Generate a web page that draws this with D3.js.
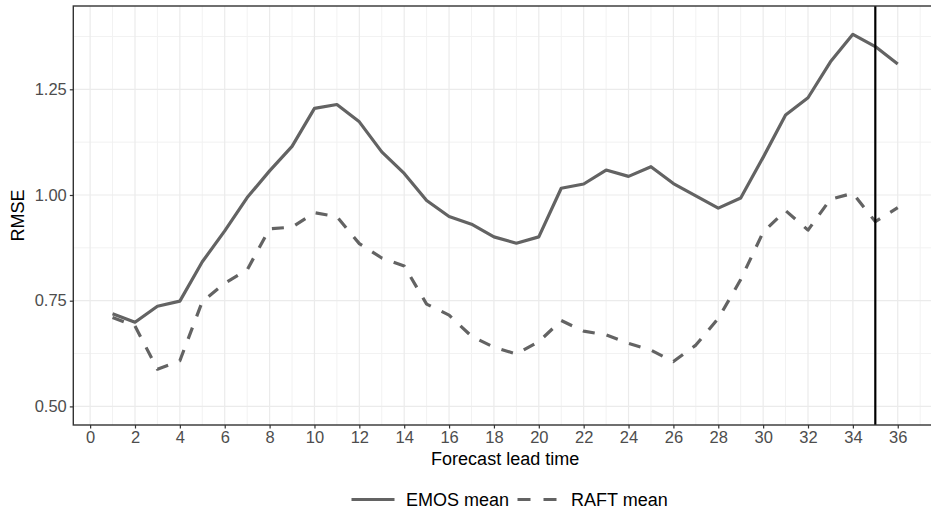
<!DOCTYPE html>
<html>
<head>
<meta charset="utf-8">
<script src="https://cdn.jsdelivr.net/npm/d3@7"></script>
<style>
  body { margin: 0; background: #fff; }
  svg { display: block; font-family: "Liberation Sans", Arial, sans-serif; }
</style>
</head>
<body>
<div id="chart"></div>
<script>
// data
const leadTime = [1,2,3,4,5,6,7,8,9,10,11,12,13,14,15,16,17,18,19,20,21,22,23,24,25,26,27,28,29,30,31,32,33,34,35,36];
const emosMean = [0.719,0.699,0.737,0.749,0.842,0.915,0.994,1.057,1.115,1.205,1.214,1.173,1.102,1.051,0.987,0.949,0.931,0.901,0.886,0.901,
                  1.016,1.026,1.059,1.044,1.067,1.027,0.998,0.969,0.993,1.089,1.189,1.230,1.315,1.380,1.351,1.310];
const raftMean = [0.710,0.690,0.588,0.608,0.748,0.791,0.823,0.920,0.924,0.958,0.949,0.885,0.851,0.832,0.742,0.716,0.666,0.640,0.624,0.653,
                  0.703,0.678,0.669,0.649,0.633,0.606,0.645,0.708,0.800,0.912,0.963,0.917,0.990,1.004,0.937,0.970];
const xTicks = [0,2,4,6,8,10,12,14,16,18,20,22,24,26,28,30,32,34,36];
const yTicks = [0.50,0.75,1.00,1.25];
const yMinor = [0.625,0.875,1.125,1.375];
const vlineAt = 35;
const seriesNames = ["EMOS mean", "RAFT mean"];

const W = 931, H = 512;
const pL = 73.3, pT = 6, pB = 425, pR = 937;

const svg = d3.select("#chart").append("svg")
  .attr("width", W).attr("height", H);

const x = d3.scaleLinear().domain([-0.75, 37.75]).range([pL, pR]);
const y = d3.scaleLinear().domain([0.456, 1.447]).range([pB, pT]);

svg.append("defs").append("clipPath").attr("id", "panel")
  .append("rect").attr("x", pL).attr("y", pT)
  .attr("width", pR - pL).attr("height", pB - pT);

// grid
const grid = svg.append("g");
const xMinor = d3.range(1, 38, 2);
grid.selectAll(".xm").data(xMinor).enter().append("line")
  .attr("x1", d => x(d)).attr("x2", d => x(d))
  .attr("y1", pT).attr("y2", pB)
  .attr("stroke", "#f2f2f2").attr("stroke-width", 1);
grid.selectAll(".ym").data(yMinor).enter().append("line")
  .attr("x1", pL).attr("x2", pR)
  .attr("y1", d => y(d)).attr("y2", d => y(d))
  .attr("stroke", "#f2f2f2").attr("stroke-width", 1);
grid.selectAll(".xM").data(xTicks).enter().append("line")
  .attr("x1", d => x(d)).attr("x2", d => x(d))
  .attr("y1", pT).attr("y2", pB)
  .attr("stroke", "#ebebeb").attr("stroke-width", 1.2);
grid.selectAll(".yM").data(yTicks).enter().append("line")
  .attr("x1", pL).attr("x2", pR)
  .attr("y1", d => y(d)).attr("y2", d => y(d))
  .attr("stroke", "#ebebeb").attr("stroke-width", 1.2);

// lines
const line = d3.line().x((d, i) => x(leadTime[i])).y(d => y(d));
const plot = svg.append("g").attr("clip-path", "url(#panel)");
plot.append("path").datum(emosMean).attr("d", line)
  .attr("fill", "none").attr("stroke", "#636363").attr("stroke-width", 3.2)
  .attr("stroke-linejoin", "round");
plot.append("path").datum(raftMean).attr("d", line)
  .attr("fill", "none").attr("stroke", "#636363").attr("stroke-width", 3.2)
  .attr("stroke-dasharray", "12,12").attr("stroke-linejoin", "round");

plot.append("line")
  .attr("x1", x(vlineAt)).attr("x2", x(vlineAt))
  .attr("y1", pT).attr("y2", pB)
  .attr("stroke", "#000").attr("stroke-width", 2.2);

// panel border
svg.append("rect").attr("x", pL).attr("y", pT)
  .attr("width", pR - pL).attr("height", pB - pT)
  .attr("fill", "none").attr("stroke", "#333").attr("stroke-width", 1.4);

// axes
const xAxis = svg.append("g").attr("transform", `translate(0,${pB})`)
  .call(d3.axisBottom(x).tickValues(xTicks).tickSize(3.5).tickPadding(3).tickFormat(d3.format("d")));
const yAxis = svg.append("g").attr("transform", `translate(${pL},0)`)
  .call(d3.axisLeft(y).tickValues(yTicks).tickSize(3.5).tickPadding(3).tickFormat(d3.format(".2f")));
[xAxis, yAxis].forEach(a => {
  a.select(".domain").remove();
  a.selectAll(".tick line").attr("stroke", "#333").attr("stroke-width", 1.2);
  a.selectAll(".tick text").attr("fill", "#4d4d4d")
    .style("font-size", "16.5px").style("font-family", "Liberation Sans, Arial, sans-serif");
});

// titles
svg.append("text").attr("x", (pL + pR) / 2).attr("y", 465)
  .attr("text-anchor", "middle").style("font-size", "18px").text("Forecast lead time");
svg.append("text").attr("transform", `translate(24,${(pT + pB) / 2}) rotate(-90)`)
  .attr("text-anchor", "middle").style("font-size", "18px").text("RMSE");

// legend
const legend = svg.append("g");
const keys = [
  { name: seriesNames[0], x0: 351.5, dash: null, tx: 406 },
  { name: seriesNames[1], x0: 517.5, dash: "13,13", tx: 571 }
];
keys.forEach(k => {
  legend.append("line").attr("x1", k.x0).attr("x2", k.x0 + 43)
    .attr("y1", 499.5).attr("y2", 499.5)
    .attr("stroke", "#636363").attr("stroke-width", 3.2)
    .attr("stroke-dasharray", k.dash);
  legend.append("text").attr("x", k.tx).attr("y", 506)
    .style("font-size", "18px").text(k.name);
});
</script>
</body>
</html>
